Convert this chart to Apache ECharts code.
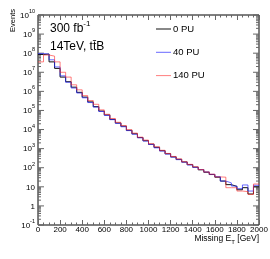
<!DOCTYPE html>
<html><head><meta charset="utf-8">
<script src="https://cdn.jsdelivr.net/npm/echarts@6/dist/echarts.min.js"></script>
<style>html,body{margin:0;padding:0;background:#fff}#c{width:270px;height:259px}</style>
</head><body><div id="c"></div>
<script>
// ---- data ----
const binLow = [0,50,100,150,200,250,300,350,400,450,500,550,600,650,700,750,800,850,900,950,
                1000,1050,1100,1150,1200,1250,1300,1350,1400,1450,1500,1550,1600,1650,1700,1750,1800,1850,1900,1950];
const binHigh = 2000;
const pu0 = [8.5e7,9.0e7,3.5e7,1.6e7,5.6e6,3.2e6,1.66e6,8.9e5,5.0e5,2.8e5,1.58e5,9.3e4,5.8e4,3.4e4,2.2e4,1.5e4,9.1e3,6.0e3,3.8e3,2.6e3,
             1.7e3,1.17e3,780,540,370,275,200,145,107,78,58,44,32,20,13,10.5,7,9,4.2,10];
const pu40 = [9.5e7,9.0e7,4.5e7,1.9e7,6.5e6,3.0e6,1.5e6,8.2e5,4.6e5,2.6e5,1.5e5,8.8e4,5.5e4,3.3e4,2.1e4,1.4e4,8.8e3,5.7e3,3.7e3,2.5e3,
              1.65e3,1.1e3,750,520,360,265,195,140,105,80,60,45,34,20,16,11,8,12.5,6,12];
const pu140 = [3.5e7,8.0e7,7.0e7,3.5e7,1.0e7,5.6e6,2.2e6,1.2e6,6.0e5,3.3e5,2.1e5,1.07e5,6.3e4,3.8e4,2.4e4,1.6e4,9.8e3,6.5e3,4.0e3,2.8e3,
               1.8e3,1.25e3,820,560,390,290,205,150,112,80,60,46,33,32,9,9,6,5.6,4,14];
const seriesNames = ['0 PU','40 PU','140 PU'];
const xTickLabels = [0,200,400,600,800,1000,1200,1400,1600,1800,2000];
const yDecades = [-1,0,1,2,3,4,5,6,7,8,9,10];
const yMinorMult = [2,3,4,5,6,7,8,9];

const FONT = 'Liberation Sans, Arial, Helvetica, sans-serif';

function steps(vals){
  const pts = binLow.map((x,i)=>[x, vals[i]]);
  pts.push([binHigh, vals[vals.length-1]]);
  return pts;
}
const tickData = [];
yDecades.forEach(e=>tickData.push([0, Math.pow(10,e), 1]));
yDecades.slice(0,-1).forEach(e=>yMinorMult.forEach(m=>tickData.push([0, m*Math.pow(10,e), 0])));
const labelData = yDecades.map(e=>[0, Math.pow(10,e), e]);

function yLabelText(e){
  if (e === 0) return '{b|1}';
  if (e === 1) return '{b|10}';
  return '{b|10}{s|' + e + '}';
}

const chart = echarts.init(document.getElementById('c'), null, {renderer:'canvas'});
const tickColor = '#666';
const colBlack = '#111', colBlue = 'rgba(40,40,255,0.7)', colRed = 'rgba(255,40,40,0.6)';
const lineIcon = 'path://M0,0 L15,0 L15,1 L0,1 Z';
const option = {
  animation: false,
  backgroundColor: '#fff',
  grid: {left:38, right:11, top:15, bottom:34, show:true, borderColor:'#000', borderWidth:1,
         backgroundColor:'transparent', outerBoundsMode:'none', containLabel:false},
  xAxis: [
    {type:'value', min:0, max:2000, interval:200, position:'bottom',
     axisLine:{show:false}, splitLine:{show:false},
     axisTick:{show:true, inside:true, length:5, lineStyle:{color:tickColor}},
     minorTick:{show:true, splitNumber:4, length:2.5, lineStyle:{color:tickColor}},
     axisLabel:{show:true, margin:1, fontSize:8, fontFamily:FONT, color:'#000',
                showMinLabel:true, showMaxLabel:true,
                formatter: v => xTickLabels.indexOf(v) >= 0 ? String(v) : ''}},
    {type:'value', min:0, max:2000, interval:200, position:'top',
     axisLine:{show:false}, splitLine:{show:false},
     axisTick:{show:true, inside:true, length:5, lineStyle:{color:tickColor}},
     minorTick:{show:true, splitNumber:4, length:2.5, lineStyle:{color:tickColor}},
     axisLabel:{show:false}}
  ],
  yAxis: {type:'log', logBase:10, min:0.1, max:1e10,
          axisLine:{show:false}, axisTick:{show:false}, axisLabel:{show:false},
          splitLine:{show:false}, minorTick:{show:false}},
  legend: {data: seriesNames.map(n=>({name:n, icon:lineIcon})), orient:'vertical', left:151, top:19,
           itemWidth:15, itemHeight:10, itemGap:13.3, symbolKeepAspect:true,
           selectedMode:false,
           textStyle:{fontSize:9.5, fontFamily:FONT, color:'#000', padding:[0,0,0,-3]}},
  graphic: [
    {type:'text', x:13, y:9, rotation:Math.PI/2,
     style:{text:'Events', fontSize:7.5, fontFamily:FONT, fill:'#000', align:'right', verticalAlign:'middle'}},
    {type:'text', x:50, y:27,
     style:{text:'{b|300 fb}{s|-1}', fill:'#000', align:'left', verticalAlign:'middle',
            rich:{b:{fontSize:12, fontFamily:FONT, lineHeight:15, verticalAlign:'bottom'},
                  s:{fontSize:8, fontFamily:FONT, lineHeight:8, verticalAlign:'top'}}}},
    {type:'text', x:50, y:47,
     style:{text:'14TeV, t\u0074\u0304B', fontSize:12, fontFamily:FONT, fill:'#000', align:'left', verticalAlign:'middle'}},
    {type:'text', x:259, y:239.5,
     style:{text:'{b|Missing E}{t|T}{b| [GeV]}', fill:'#000', align:'right', verticalAlign:'middle',
            rich:{b:{fontSize:8.5, fontFamily:FONT, lineHeight:11, verticalAlign:'top'},
                  t:{fontSize:6, fontFamily:FONT, lineHeight:6, verticalAlign:'bottom'}}}}
  ],
  series: [
    {name:seriesNames[0], type:'line', step:'end', symbol:'none', data:steps(pu0),
     itemStyle:{color:colBlack}, lineStyle:{width:1, color:colBlack}, z:3},
    {name:seriesNames[1], type:'line', step:'end', symbol:'none', data:steps(pu40),
     itemStyle:{color:colBlue}, lineStyle:{width:1, color:colBlue}, z:4},
    {name:seriesNames[2], type:'line', step:'end', symbol:'none', data:steps(pu140),
     itemStyle:{color:colRed}, lineStyle:{width:1, color:colRed}, z:5},
    {name:'yticks', type:'custom', clip:false, silent:true, z:2, data:tickData,
     renderItem:function(params, api){
       const v = api.value(1), major = api.value(2);
       const pL = api.coord([0, v]), pR = api.coord([2000, v]);
       const len = major ? 6 : 3;
       return {type:'group', children:[
         {type:'line', shape:{x1:pL[0], y1:pL[1], x2:pL[0]+len, y2:pL[1]}, style:{stroke:tickColor, lineWidth:1}},
         {type:'line', shape:{x1:pR[0]-len, y1:pR[1], x2:pR[0], y2:pR[1]}, style:{stroke:tickColor, lineWidth:1}}
       ]};
     }},
    {name:'ylabels', type:'custom', clip:false, silent:true, z:2, data:labelData,
     renderItem:function(params, api){
       const v = api.value(1), e = api.value(2);
       const p = api.coord([0, v]);
       return {type:'text', x:p[0]-3, y:p[1]-1,
         style:{text:yLabelText(e), fill:'#000', align:'right', verticalAlign:'middle',
                rich:{b:{fontSize:8, fontFamily:FONT, lineHeight:11, verticalAlign:'bottom'},
                      s:{fontSize:5.5, fontFamily:FONT, lineHeight:6, verticalAlign:'top'}}}};
     }}
  ]
};
chart.setOption(option);
</script></body></html>
